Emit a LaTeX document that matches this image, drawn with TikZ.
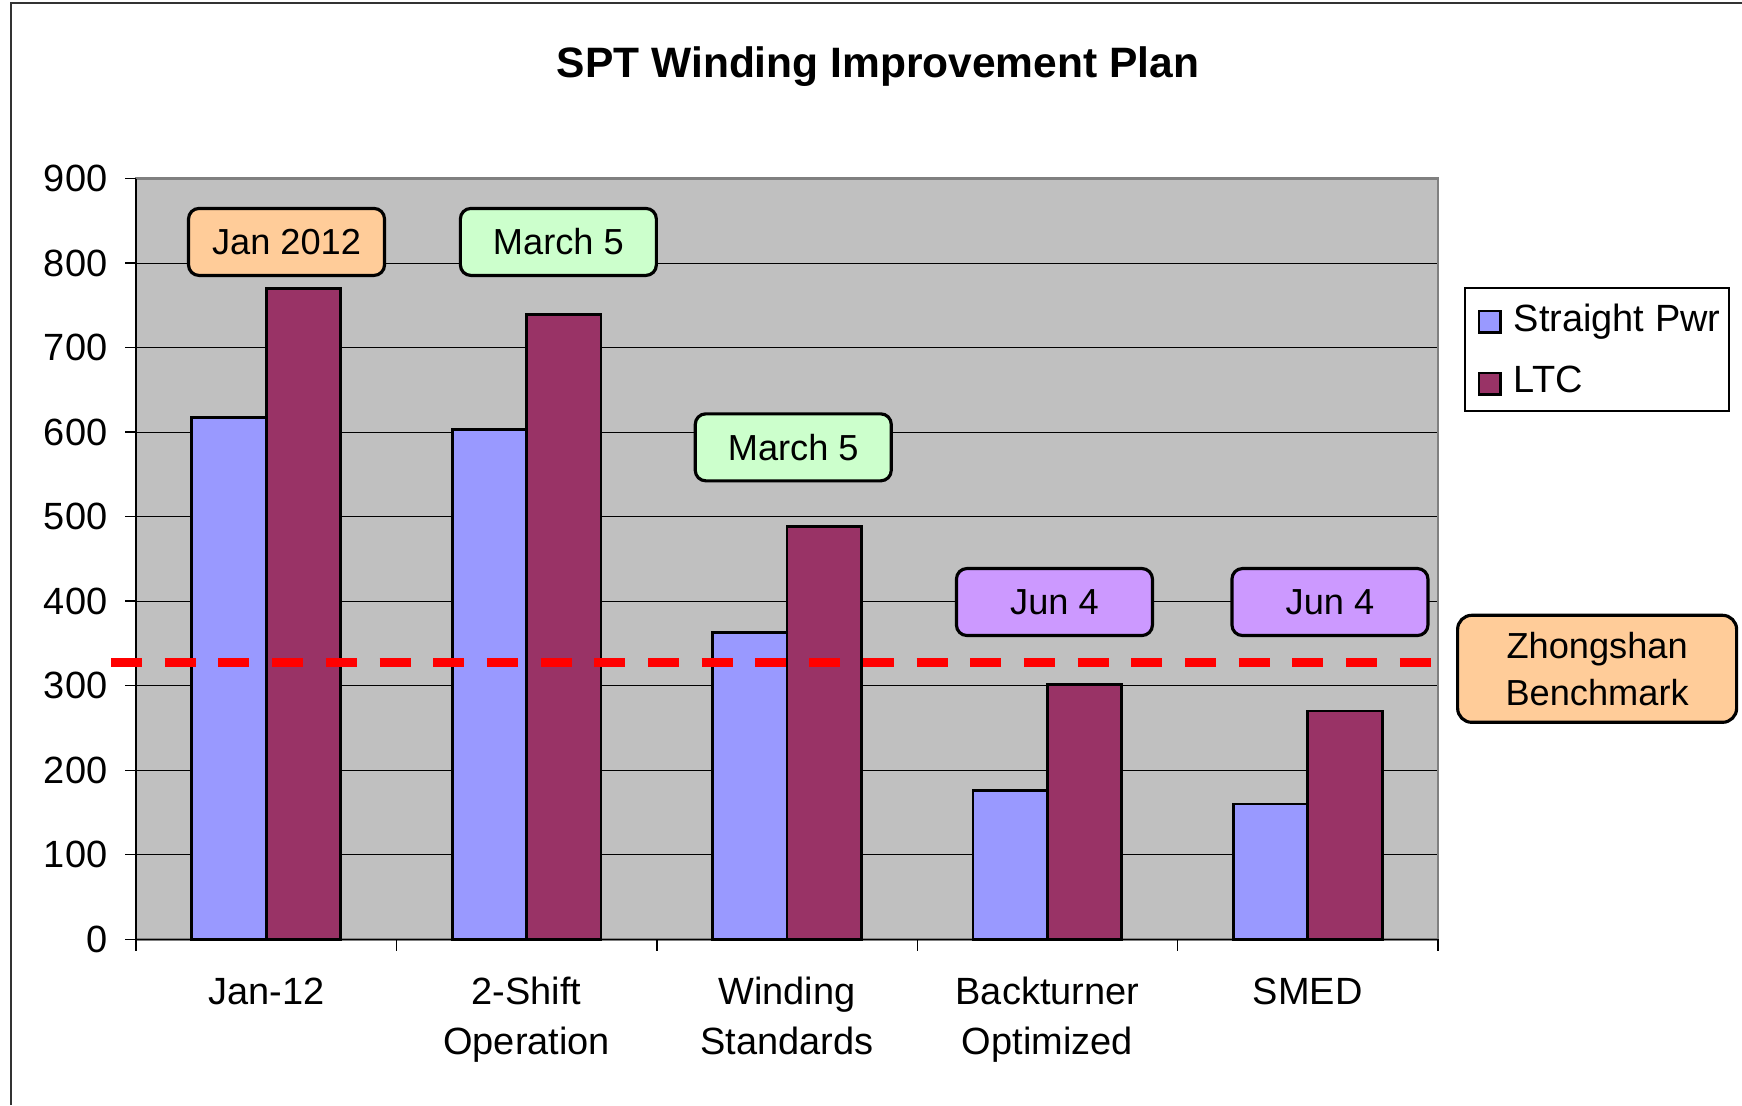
\documentclass[tikz,border=0pt]{standalone}
\usepackage{fontspec}
\setmainfont{Liberation Sans}
\usetikzlibrary{positioning}
\definecolor{pwrblue}{RGB}{153,153,255}
\definecolor{ltcred}{RGB}{153,51,102}
\definecolor{plotgray}{RGB}{192,192,192}
\definecolor{peach}{RGB}{255,204,153}
\definecolor{mint}{RGB}{204,255,204}
\definecolor{lilac}{RGB}{204,153,255}
\tikzset{
	pwr/.style   = {draw, line width=0.8pt, fill=pwrblue},
	ltc/.style   = {draw, line width=0.8pt, fill=ltcred},
	tag/.style   = {draw, line width=0.9pt, rounded corners=3pt,
		minimum width=1.96cm, minimum height=0.67cm,
		font=\fontsize{10.3}{13.3}\selectfont},
	ylab/.style  = {anchor=east, inner sep=0pt, font=\fontsize{10.8}{13}\selectfont},
	xlab/.style  = {anchor=base, align=center, inner sep=0pt,
		font=\fontsize{10.8}{14.2}\selectfont},
	bench/.style = {red, line width=2.5pt, dash pattern=on 0.31cm off 0.227cm}
}

\begin{document}
\begin{tikzpicture}
	\useasboundingbox (0,0) rectangle (17.42,11.05);
	\draw[line width=0.6pt, black!80] (0.11,0) -- (0.11,11.02) -- (17.42,11.02);
	\node[anchor=base, font=\bfseries\fontsize{12.1}{15}\selectfont] (title) at (8.78,10.27)
		{SPT Winding Improvement Plan};
	
	\begin{scope}[shift={(1.36,1.657)}, x=2.604cm, y=0.008457cm]
	% plot area
	\fill[plotgray] (0,0) rectangle (5,900);
	\foreach \v in {100,200,...,800}
		\draw[line width=0.3pt] (0,\v) -- (5,\v);
	\draw[black!50, line width=0.8pt] (0,0) rectangle (5,900);
	\draw[line width=0.4pt] (0,900) -- (0,0) -- (5,0);
	\foreach \v in {0,100,...,900}{
		\draw[line width=0.4pt] (-0.042,\v) -- (0,\v);
		\node[ylab] (y\v) at (-0.1075,\v) {\v};
	}
	\foreach \i in {0,...,5}
		\draw[line width=0.4pt] (\i,0) -- (\i,-14);
	
	% bars
	\foreach \i/\a/\b in {0/617/770, 1/603/739, 2/363/488, 3/176/301, 4/160/270}{
		\draw[pwr] (\i+0.2143,0) rectangle (\i+0.5,\a);
		\draw[ltc] (\i+0.5,0) rectangle (\i+0.7857,\b);
	}
	\draw[bench] (-0.096,327.6) -- (5,327.6);
	
	% dates
	\node[tag, fill=peach] (jan) at (0.578,825) {Jan 2012};
	\node[tag, fill=mint] (marA) at (1.622,825) {March 5};
	\node[tag, fill=mint] (marB) at (2.524,582) {March 5};
	\node[tag, fill=lilac] (junA) at (3.527,399) {Jun 4};
	\node[tag, fill=lilac] (junB) at (4.585,399) {Jun 4};
	\node[tag, fill=peach, align=center, minimum width=2.79cm, minimum height=1.07cm,
		rounded corners=4pt] (zs) at (5.611,320) {Zhongshan\\Benchmark};
	
	% base of a two-line label is its last line
	\node[xlab] (c1) at (0.5,-77) {Jan-12};
	\node[xlab] (c2) at (1.5,-136) {2-Shift\\Operation};
	\node[xlab] (c3) at (2.5,-136) {Winding\\Standards};
	\node[xlab] (c4) at (3.5,-136) {Backturner\\Optimized};
	\node[xlab] (c5) at (4.5,-77) {SMED};
	\end{scope}
	
	% legend
	\draw[line width=0.4pt] (14.65,6.94) rectangle (17.29,8.17);
	\draw[pwr] (14.79,7.727) rectangle (15.007,7.94);
	\draw[ltc] (14.79,7.107) rectangle (15.007,7.32);
	\node[anchor=base west, inner sep=0pt, font=\fontsize{10.8}{13}\selectfont] (lgpwr) at (15.13,7.733) {Straight Pwr};
	\node[anchor=base west, inner sep=0pt, font=\fontsize{10.8}{13}\selectfont] (lgltc) at (15.13,7.123) {LTC};
\end{tikzpicture}
\end{document}
